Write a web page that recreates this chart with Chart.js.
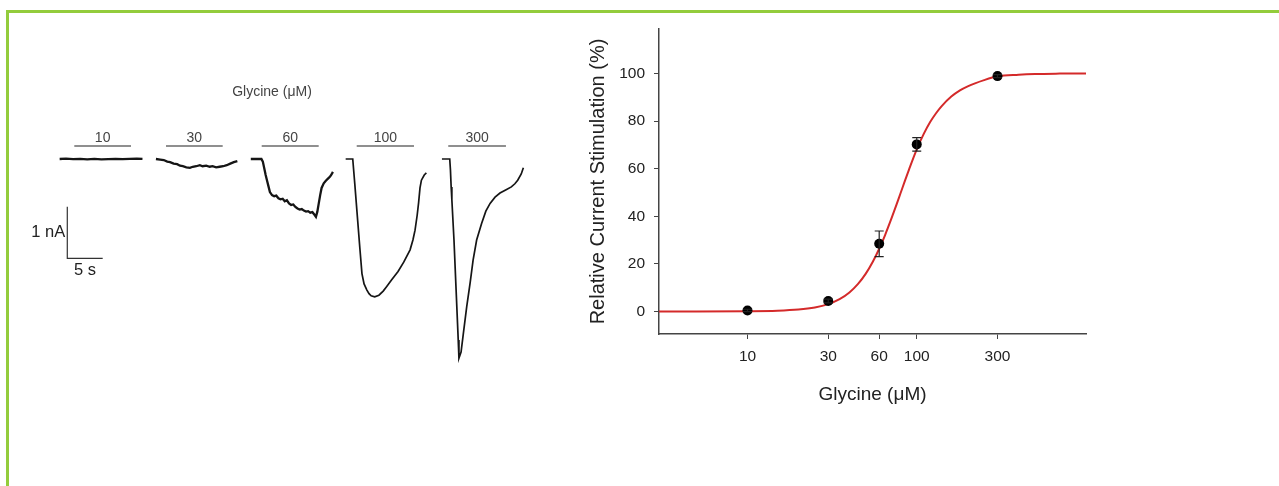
<!DOCTYPE html>
<html>
<head>
<meta charset="utf-8">
<script src="https://cdn.jsdelivr.net/npm/chart.js@4.4.1/dist/chart.umd.min.js"></script>
<style>
  body { margin: 0; background: #fff; width: 1279px; height: 486px; overflow: hidden; position: relative; }
  #frame { position: absolute; left: 6px; top: 10px; width: 1300px; height: 500px;
           border-top: 3px solid #93cc3c; border-left: 3px solid #93cc3c; }
  #traces { position: absolute; left: 20px; top: 60px; }
  #dose { position: absolute; left: 560px; top: 0px; }
</style>
</head>
<body>
<div id="frame"></div>
<canvas id="traces" width="520" height="320"></canvas>
<canvas id="dose" width="560" height="430"></canvas>
<script>
// ---- current traces (time in s, current in nA) ----
const concLabels = ['10', '30', '60', '100', '300'];
const barStart = [7.67, 20.62, 34.14, 47.56, 60.49];
const barEnd = [15.68, 28.63, 42.19, 55.65, 68.64];
const barLevel = 0.25;

const trace10T = [5.6, 6.5, 7.5, 8.5, 9.5, 10.5, 11.5, 12.5, 13.5, 14.5, 15.5, 16.5, 17.3];
const trace10I = [0, 0.006, -0.004, 0.004, -0.006, 0.002, -0.008, -0.002, 0.004, -0.004, 0.002, 0.006, 0.002];

const trace30T = [19.2, 19.8, 20.3, 20.8, 21.2, 21.7, 22.2, 22.6, 23.0, 23.5, 24.0, 24.4, 24.9, 25.4, 25.8, 26.3, 26.8, 27.2, 27.7, 28.2, 28.7, 29.2, 29.7, 30.2, 30.7];
const trace30I = [0, -0.01, -0.02, -0.05, -0.06, -0.09, -0.10, -0.13, -0.14, -0.16, -0.17, -0.15, -0.14, -0.12, -0.14, -0.13, -0.15, -0.14, -0.16, -0.15, -0.14, -0.12, -0.09, -0.06, -0.04];

const trace60T = [32.6, 33.4, 34.1, 34.3, 34.5, 34.7, 34.9, 35.1, 35.3, 35.6, 35.9, 36.2, 36.5, 36.8, 37.1, 37.4, 37.7, 38.0, 38.3, 38.6, 38.9, 39.2, 39.5, 39.8, 40.1, 40.4, 40.7, 41.0, 41.3, 41.6, 41.8, 42.0, 42.2, 42.4, 42.6, 42.9, 43.2, 43.5, 43.8, 44.0, 44.2];
const trace60I = [0, 0, 0, -0.05, -0.18, -0.31, -0.42, -0.53, -0.64, -0.70, -0.72, -0.71, -0.76, -0.78, -0.77, -0.82, -0.80, -0.86, -0.89, -0.88, -0.93, -0.96, -0.98, -0.97, -1.00, -1.02, -1.01, -1.04, -1.03, -1.08, -1.12, -1.02, -0.86, -0.70, -0.56, -0.47, -0.42, -0.38, -0.34, -0.30, -0.25];

const trace100T = [46.0, 47.0, 47.3, 47.7, 48.0, 48.3, 48.6, 49.0, 49.3, 49.6, 50.1, 50.7, 51.3, 51.8, 52.5, 53.4, 54.2, 55.1, 55.5, 55.8, 56.1, 56.3, 56.5, 56.7, 57.1, 57.4];
const trace100I = [0, 0, -0.50, -1.20, -1.72, -2.22, -2.42, -2.54, -2.61, -2.65, -2.67, -2.64, -2.56, -2.47, -2.34, -2.18, -2.00, -1.76, -1.57, -1.38, -1.09, -0.85, -0.56, -0.41, -0.31, -0.27];

const trace300T = [59.6, 60.7, 60.8, 60.9, 61.0, 61.3, 61.6, 61.9, 62.0, 62.3, 62.6, 63.1, 63.6, 64.0, 64.5, 65.2, 65.8, 66.4, 67.1, 67.8, 68.6, 69.4, 69.9, 70.3, 70.8, 71.1];
const trace300I = [0, 0, -0.21, -0.54, -0.79, -1.57, -2.54, -3.51, -3.86, -3.74, -3.41, -2.86, -2.38, -1.96, -1.57, -1.25, -1.01, -0.86, -0.74, -0.66, -0.60, -0.54, -0.48, -0.41, -0.29, -0.17];

const scaleBarNA = 1;
const scaleBarS = 5;

// ---- dose response ----
const glyConc = [10, 30, 60, 100, 300];
const relCurrent = [0.4, 4.4, 28.4, 70.2, 98.9];
const relCurrentErr = [0.5, 0.8, 5.4, 2.8, 0.6];
const fitConc = [3, 5, 10, 15, 20, 25, 30, 35, 40, 45, 50, 55, 60, 65, 70, 75, 80, 85, 90, 100, 110, 120, 130, 140, 160, 180, 200, 250, 300, 400, 500, 700, 1000];
const fitValue = [0, 0, 0.07, 0.28, 0.76, 1.64, 3.06, 5.14, 7.96, 11.55, 15.88, 20.86, 26.33, 32.11, 38.01, 43.84, 49.45, 54.75, 59.63, 68.12, 74.6, 79.6, 83.3, 86.2, 90.3, 92.9, 94.6, 97.2, 98.8, 99.5, 99.8, 99.95, 100];
const xTicks = [10, 30, 60, 100, 300];
const yTicks = [0, 20, 40, 60, 80, 100];

const FONT = "'Liberation Sans', Arial, sans-serif";
Chart.defaults.font.family = FONT;

const pts = (xs, ys) => xs.map((x, k) => ({ x: x, y: ys[k] }));

function traceSet(t, i, w) {
  return { data: pts(t, i), showLine: true, borderColor: '#151515', borderWidth: w,
           pointRadius: 0, tension: 0, fill: false };
}

// where the scale bar corner sits (s, nA)
const barCornerT = 6.68, barCornerI = -1.924;

const traceSets = [
  traceSet(trace10T, trace10I, 2.3),
  traceSet(trace30T, trace30I, 2.3),
  traceSet(trace60T, trace60I, 2.3),
  traceSet(trace100T, trace100I, 1.7),
  traceSet(trace300T, trace300I, 1.7)
];
concLabels.forEach((c, k) => {
  traceSets.push({ data: [{ x: barStart[k], y: barLevel }, { x: barEnd[k], y: barLevel }],
    showLine: true, borderColor: '#6a6a6a', borderWidth: 1.5, pointRadius: 0 });
});
traceSets.push({ data: [{ x: barCornerT, y: barCornerI + scaleBarNA }, { x: barCornerT, y: barCornerI },
                        { x: barCornerT + scaleBarS, y: barCornerI }],
  showLine: true, borderColor: '#333', borderWidth: 1.2, pointRadius: 0 });

const traceText = {
  id: 'traceText',
  afterDatasetsDraw(chart) {
    const { ctx, scales: { x, y } } = chart;
    ctx.save();
    ctx.textAlign = 'center';
    ctx.textBaseline = 'middle';
    ctx.fillStyle = '#444';
    ctx.font = '14px ' + FONT;
    ctx.fillText('Glycine (\u03bcM)', x.getPixelForValue(35.6), y.getPixelForValue(1.30));
    concLabels.forEach((c, k) => {
      ctx.fillText(c, x.getPixelForValue((barStart[k] + barEnd[k]) / 2), y.getPixelForValue(barLevel) - 8);
    });
    ctx.fillStyle = '#222';
    ctx.font = '16.5px ' + FONT;
    ctx.textAlign = 'right';
    ctx.fillText(scaleBarNA + ' nA', x.getPixelForValue(barCornerT) - 2,
                 y.getPixelForValue(barCornerI + scaleBarNA / 2));
    ctx.textAlign = 'center';
    ctx.fillText(scaleBarS + ' s', x.getPixelForValue(barCornerT + scaleBarS / 2),
                 y.getPixelForValue(barCornerI) + 12);
    ctx.restore();
  }
};

new Chart(document.getElementById('traces'), {
  type: 'scatter',
  data: { datasets: traceSets },
  options: {
    responsive: false, animation: false, devicePixelRatio: 1,
    layout: { padding: 0 },
    plugins: { legend: { display: false }, tooltip: { enabled: false } },
    scales: {
      x: { type: 'linear', display: false, min: 0, max: 73.45 },
      y: { type: 'linear', display: false, min: -4.283, max: 1.919 }
    }
  },
  plugins: [traceText]
});

const errorBars = {
  id: 'errorBars',
  afterDatasetsDraw(chart) {
    const { ctx, scales: { x, y } } = chart;
    ctx.save();
    ctx.strokeStyle = '#222';
    ctx.lineWidth = 1.2;
    glyConc.forEach((c, k) => {
      const px = x.getPixelForValue(c);
      const top = y.getPixelForValue(relCurrent[k] + relCurrentErr[k]);
      const bot = y.getPixelForValue(relCurrent[k] - relCurrentErr[k]);
      ctx.beginPath();
      ctx.moveTo(px, top); ctx.lineTo(px, bot);
      ctx.moveTo(px - 4.5, top); ctx.lineTo(px + 4.5, top);
      ctx.moveTo(px - 4.5, bot); ctx.lineTo(px + 4.5, bot);
      ctx.stroke();
    });
    ctx.restore();
  }
};

new Chart(document.getElementById('dose'), {
  type: 'scatter',
  data: {
    datasets: [
      { data: pts(glyConc, relCurrent), pointRadius: 5, pointBackgroundColor: '#000',
        pointBorderColor: '#000', pointBorderWidth: 0, showLine: false },
      { data: pts(fitConc, fitValue), showLine: true, borderColor: '#d42a2a', borderWidth: 2,
        pointRadius: 0, cubicInterpolationMode: 'monotone' }
    ]
  },
  options: {
    responsive: false, animation: false, devicePixelRatio: 1,
    layout: { padding: { left: 0, top: 29, right: 34, bottom: 0 } },
    plugins: { legend: { display: false }, tooltip: { enabled: false } },
    scales: {
      x: {
        type: 'logarithmic', min: 3, max: 1000,
        afterBuildTicks: (axis) => { axis.ticks = xTicks.map(v => ({ value: v })); },
        afterFit: (axis) => { axis.height = 96; },
        grid: { drawOnChartArea: false, drawTicks: true, tickLength: 5, color: '#444' },
        border: { display: true, color: '#444', width: 1.5 },
        ticks: { autoSkip: false, maxRotation: 0, padding: 8, color: '#222', font: { size: 15.5 },
                 callback: (v) => String(v) },
        title: { display: true, text: 'Glycine (\u03bcM)', color: '#222', font: { size: 19 },
                 padding: { top: 0, bottom: 24 } }
      },
      y: {
        type: 'linear', min: -9.5, max: 118.7,
        afterBuildTicks: (axis) => { axis.ticks = yTicks.map(v => ({ value: v })); },
        afterFit: (axis) => { axis.width = 99; },
        grid: { drawOnChartArea: false, drawTicks: true, tickLength: 5, color: '#444' },
        border: { display: true, color: '#444', width: 1.5 },
        ticks: { padding: 9, color: '#222', font: { size: 15.5 } },
        title: { display: true, text: 'Relative Current Stimulation (%)', color: '#222',
                 font: { size: 20 }, padding: { top: 26, bottom: 0 } }
      }
    }
  },
  plugins: [errorBars]
});
</script>
</body>
</html>
